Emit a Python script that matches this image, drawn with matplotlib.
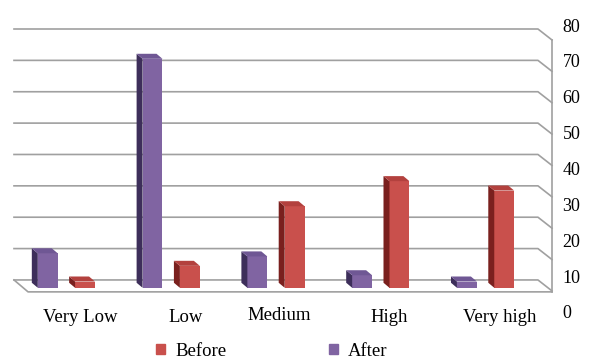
import matplotlib.pyplot as plt
from matplotlib.patches import Polygon, Patch
from matplotlib.transforms import offset_copy

# survey levels and percentages of respondents
categories = ['Very Low', 'Low', 'Medium', 'High', 'Very high']
before = [2, 7, 26, 34, 31]
after = [11, 73, 10, 4, 2]
y_ticks = [0, 10, 20, 30, 40, 50, 60, 70, 80]

plt.rcParams['font.family'] = ['Liberation Serif', 'DejaVu Serif']

W, H = 592, 361
fig = plt.figure(figsize=(W / 100, H / 100), dpi=100)

# main axes holds the back wall (x 0..5) plus the front offset of the floor
dx, dy = 0.134, 3.5          # depth of the floor in data units
ax = fig.add_axes([14 / W, (H - 292.5) / H, 538 / W, 263.5 / H])
ax.set_xlim(0, 5 + dx)
ax.set_ylim(-4, 80)
ax.axis('off')

grid_c = '#a0a0a0'
for v in y_ticks:
    ax.plot([0, 5, 5 + dx], [v, v, v - dy], color=grid_c, lw=1.2,
            clip_on=False, zorder=1)
# floor and right edge
ax.plot([0, dx, 5 + dx], [0, -dy - 0.3, -dy - 0.3], color=grid_c, lw=1.2,
        clip_on=False, zorder=1)
ax.plot([5 + dx, 5 + dx], [80 - dy, -dy - 0.3], color=grid_c, lw=1.2,
        clip_on=False, zorder=1)

# front, side, top colours
purple = ('#8064a2', '#3d2e5a', '#6f5794')
red = ('#c9504c', '#7a201e', '#b3413e')

base = -2.5
w = 0.19
off = 0.178
sx, sy = 0.057, 1.6


def draw_bars(xs, vals, cols):
    ax.bar(xs, vals, width=w, bottom=base, color=cols[0], zorder=3)
    for x, v in zip(xs, vals):
        x0 = x - w / 2
        top = base + v
        side = [(x0, base), (x0, top), (x0 - sx, top + sy), (x0 - sx, base + sy)]
        lid = [(x0, top), (x0 + w, top), (x0 + w - sx, top + sy), (x0 - sx, top + sy)]
        ax.add_patch(Polygon(side, closed=True, color=cols[1], zorder=3, lw=0))
        ax.add_patch(Polygon(lid, closed=True, color=cols[2], zorder=3, lw=0))


centers = [i + 0.5 for i in range(len(categories))]
draw_bars([c - off for c in centers], after, purple)
draw_bars([c + off for c in centers], before, red)

# category names under the floor (Medium sits a little left and higher)
nudge = {'Medium': (-0.1, 3), 'High': (-0.05, 0)}
for c, name in zip(centers, categories):
    nx, ny = nudge.get(name, (0, 0))
    tr = offset_copy(ax.transData, fig=fig, x=0, y=-17 + ny, units='dots')
    ax.text(c + dx + nx, -4, name, transform=tr, ha='center', va='top',
            fontsize=13.5)

# value scale on the right
ax2 = fig.add_axes([14 / W, (H - 312) / H, 538 / W, 287 / H])
ax2.set_ylim(0, 80)
ax2.patch.set_visible(False)
for s in ax2.spines.values():
    s.set_visible(False)
ax2.set_xticks([])
ax2.yaxis.tick_right()
ax2.set_yticks(y_ticks)
ax2.tick_params(axis='y', length=0, pad=7.5, labelsize=13)

handles = [Patch(color=red[0], label='Before'), Patch(color=purple[0], label='After')]
fig.legend(handles=handles, loc='center', bbox_to_anchor=(272 / W, 1 - 351 / H),
           ncol=2, frameon=False, fontsize=13.5, handlelength=0.45,
           handleheight=0.45, handletextpad=0.55, columnspacing=5.5)

fig.savefig('out.png', dpi=100)
